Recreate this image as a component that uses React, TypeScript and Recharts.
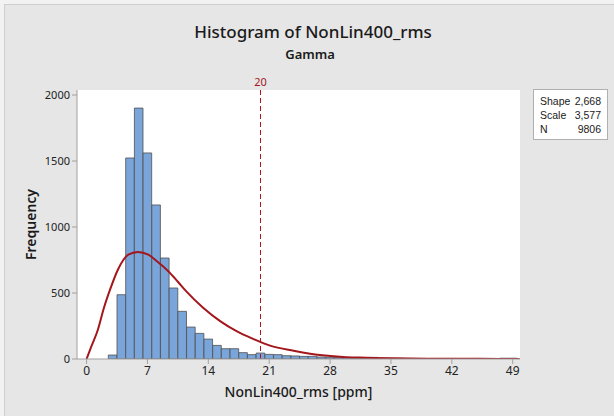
import React from 'react';
import {
  ComposedChart,
  Bar,
  Line,
  XAxis,
  YAxis,
  CartesianGrid,
  ReferenceLine,
} from 'recharts';

// histogram bins (bin centre, width 1) and counts
const binCenters = [
  3, 4, 5, 6, 7, 8, 9, 10, 11, 12, 13, 14, 15, 16, 17, 18, 19, 20, 21, 22, 23, 24, 25, 26,
  27, 28, 29, 30, 31, 32, 33, 34, 35, 36, 37, 38, 39, 40, 41, 42, 43, 44, 45, 46, 47, 48, 49,
];
const binCounts = [
  30, 487, 1523, 1901, 1561, 1167, 765, 538, 361, 242, 194, 151, 103, 78, 78, 48, 33, 45, 35, 33,
  25, 23, 20, 20, 15, 14, 13, 12, 8, 6, 12, 5, 5, 5, 4, 1, 1, 4, 4, 4, 3, 1, 4, 4, 4, 6, 6,
];

// fitted gamma curve
const curveX = [
  0, 0.55, 1.3, 2, 2.7, 3.6, 4.8, 5.9, 7.1, 8.2, 9.4, 10.5, 11.5, 13.4, 15.4, 17.3, 19.2, 21.1,
  23.8, 25.7, 29.5, 31.4, 35, 40, 45, 49.8,
];
const curveY = [
  0, 95, 222, 388, 525, 676, 790, 810, 790, 735, 665, 585, 510, 388, 285, 209, 151, 101, 62, 40,
  16, 11, 5, 2, 1, 0,
];

const xTicks = [0, 7, 14, 21, 28, 35, 42, 49];
const yTicks = [0, 500, 1000, 1500, 2000];

const stats = [
  { label: 'Shape', value: '2,668' },
  { label: 'Scale', value: '3,577' },
  { label: 'N', value: '9806' },
];

const bins = binCenters.map((x, i) => ({ x, count: binCounts[i] }));
const curve = curveX.map((x, i) => ({ x, fit: curveY[i] }));

const FONT = '"Noto Sans", "Open Sans", sans-serif';
const RED = '#a3161c';
const X_DOMAIN: [number, number] = [-1.1, 49.84];
const Y_DOMAIN: [number, number] = [0, 2038];

export default function App() {
  return (
    <div
      style={{
        position: 'absolute',
        left: 0,
        top: 0,
        width: 614,
        height: 416,
        background: '#f2f2f2',
        fontFamily: FONT,
        overflow: 'hidden',
      }}
    >
      <div
        style={{
          position: 'absolute',
          left: 4,
          top: 4,
          width: 620,
          height: 420,
          background: '#e6e6e6',
          border: '1px solid #cfcfcf',
        }}
      />
      <div
        style={{
          position: 'absolute',
          left: 0,
          width: 626,
          top: 20,
          textAlign: 'center',
          fontSize: 17,
          fontWeight: 500,
          color: '#1a1a1a',
        }}
      >
        Histogram of NonLin400_rms
      </div>
      <div
        style={{
          position: 'absolute',
          left: 0,
          width: 620,
          top: 45,
          textAlign: 'center',
          fontSize: 13,
          fontWeight: 600,
          color: '#1a1a1a',
        }}
      >
        Gamma
      </div>

      <div style={{ position: 'absolute', left: 0, top: 0 }}>
        <ComposedChart
          width={614}
          height={416}
          data={bins}
          margin={{ top: 90, right: 94, bottom: 27, left: 20 }}
        >
          <CartesianGrid horizontal={false} vertical={false} fill="#ffffff" />
          <XAxis
            dataKey="x"
            type="number"
            domain={X_DOMAIN}
            ticks={xTicks}
            allowDataOverflow
            height={30}
            stroke="#a0a0a0"
            tickSize={5}
            tick={{ fill: '#222', fontSize: 12, fontFamily: FONT }}
            label={{
              value: 'NonLin400_rms [ppm]',
              position: 'bottom',
              offset: -2,
              style: { fill: '#1a1a1a', fontSize: 14, fontWeight: 500, fontFamily: FONT },
            }}
          />
          {/* separate hidden axis for the fitted curve so its points don't shrink the bars */}
          <XAxis
            xAxisId="curve"
            dataKey="x"
            type="number"
            domain={X_DOMAIN}
            allowDataOverflow
            hide
          />
          <XAxis
            xAxisId="top"
            orientation="top"
            type="number"
            domain={X_DOMAIN}
            height={0}
            tick={false}
            tickLine={false}
            stroke="#a0a0a0"
          />
          <YAxis
            type="number"
            domain={Y_DOMAIN}
            ticks={yTicks}
            allowDataOverflow
            width={57}
            stroke="#a0a0a0"
            tickSize={5}
            tickMargin={2}
            tick={{ fill: '#222', fontSize: 11, fontFamily: FONT }}
            label={{
              value: 'Frequency',
              angle: -90,
              position: 'insideLeft',
              offset: 11,
              style: {
                textAnchor: 'middle',
                fill: '#1a1a1a',
                fontSize: 14,
                fontWeight: 600,
                fontFamily: FONT,
              },
            }}
          />
          <YAxis
            yAxisId="right"
            orientation="right"
            type="number"
            domain={Y_DOMAIN}
            width={0}
            tick={false}
            tickLine={false}
            stroke="#a0a0a0"
          />
          <Bar
            dataKey="count"
            barSize={8.6}
            fill="#7aa5da"
            stroke="#4f4f4f"
            strokeWidth={0.8}
            isAnimationActive={false}
          />
          <Line
            xAxisId="curve"
            data={curve}
            dataKey="fit"
            type="monotone"
            stroke={RED}
            strokeWidth={2}
            dot={false}
            activeDot={false}
            isAnimationActive={false}
          />
          <ReferenceLine
            x={20}
            stroke={RED}
            strokeDasharray="5 3"
            strokeWidth={1}
            label={{
              value: '20',
              position: 'top',
              offset: 4,
              style: { fill: RED, fontSize: 11, fontFamily: FONT },
            }}
          />
        </ComposedChart>
      </div>

      <div
        style={{
          position: 'absolute',
          left: 533,
          top: 89,
          width: 75,
          padding: '4px 6px 3px 6px',
          background: '#ffffff',
          border: '1px solid #b0b0b0',
          fontFamily: '"Liberation Sans", Arial, sans-serif',
          fontSize: 10.5,
          lineHeight: '14px',
          color: '#1a1a1a',
          boxSizing: 'border-box',
        }}
      >
        {stats.map((s) => (
          <div key={s.label} style={{ display: 'flex', justifyContent: 'space-between' }}>
            <span>{s.label}</span>
            <span>{s.value}</span>
          </div>
        ))}
      </div>
    </div>
  );
}
